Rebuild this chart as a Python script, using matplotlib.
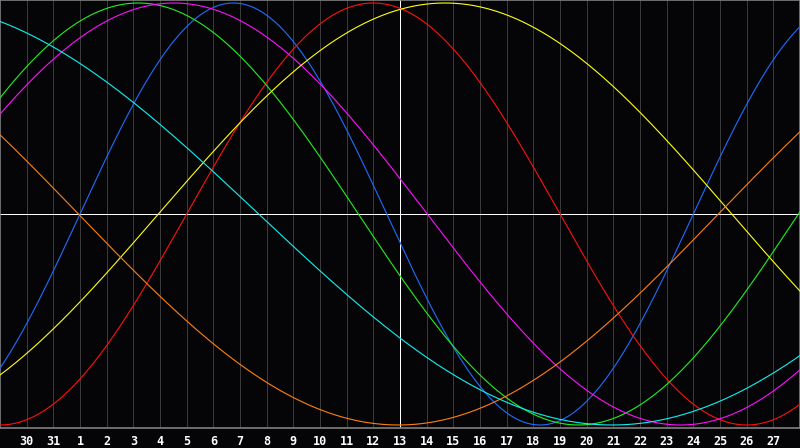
import numpy as np
import matplotlib
matplotlib.use("Agg")
import matplotlib.pyplot as plt

# Day labels for grid positions 1..29 (x index 0 .. 30 spans the chart)
day_labels = ["30", "31"] + [str(d) for d in range(1, 28)]
today_index = 15  # day 13

# Cycle series: period (days) and index of a rising zero crossing
names = ["Physical", "Emotional", "Intellectual", "Intuitive", "Aesthetic", "Awareness", "Spiritual"]
periods = [23, 28, 33, 38, 43, 48, 53]
rise_zero = [3.0, 7.0, -3.06, -2.98, 5.94, -21.06, -16.8]
colors = ["#1e6eff", "#ff1010", "#20f020", "#ff10ff", "#ffff10", "#ff8010", "#10f0f0"]

fig = plt.figure(figsize=(8, 4.48), dpi=100)
fig.patch.set_facecolor("#050508")
ax = fig.add_axes([0.0, 20 / 448, 1.0, 428 / 448])
ax.set_facecolor("#050508")

x = np.linspace(0, 30, 1200)
for p, r, c in zip(periods, rise_zero, colors):
    ax.plot(x, np.sin(2 * np.pi * (x - r) / p), color=c, lw=0.8, zorder=3)

# grid lines at each day
for i in range(1, 30):
    ax.axvline(i, color="#3a3a3a", lw=0.72, zorder=1, antialiased=False)
ax.axhline(0, color="white", lw=0.72, zorder=2, antialiased=False)
ax.axvline(today_index, color="white", lw=0.72, zorder=2, antialiased=False)

ax.set_xlim(0, 30)
lim = 214 / 211
ax.set_ylim(-lim, lim)
ax.set_xticks(range(1, 30))
ax.set_xticklabels(day_labels, color="white", fontsize=8.5, fontweight="bold",
                   family="DejaVu Sans Mono")
ax.tick_params(axis="x", length=0, pad=5)
ax.set_yticks([])
for s in ax.spines.values():
    s.set_color("#808080")
    s.set_linewidth(1.2)

fig.savefig("out.png", dpi=100, facecolor=fig.get_facecolor())
